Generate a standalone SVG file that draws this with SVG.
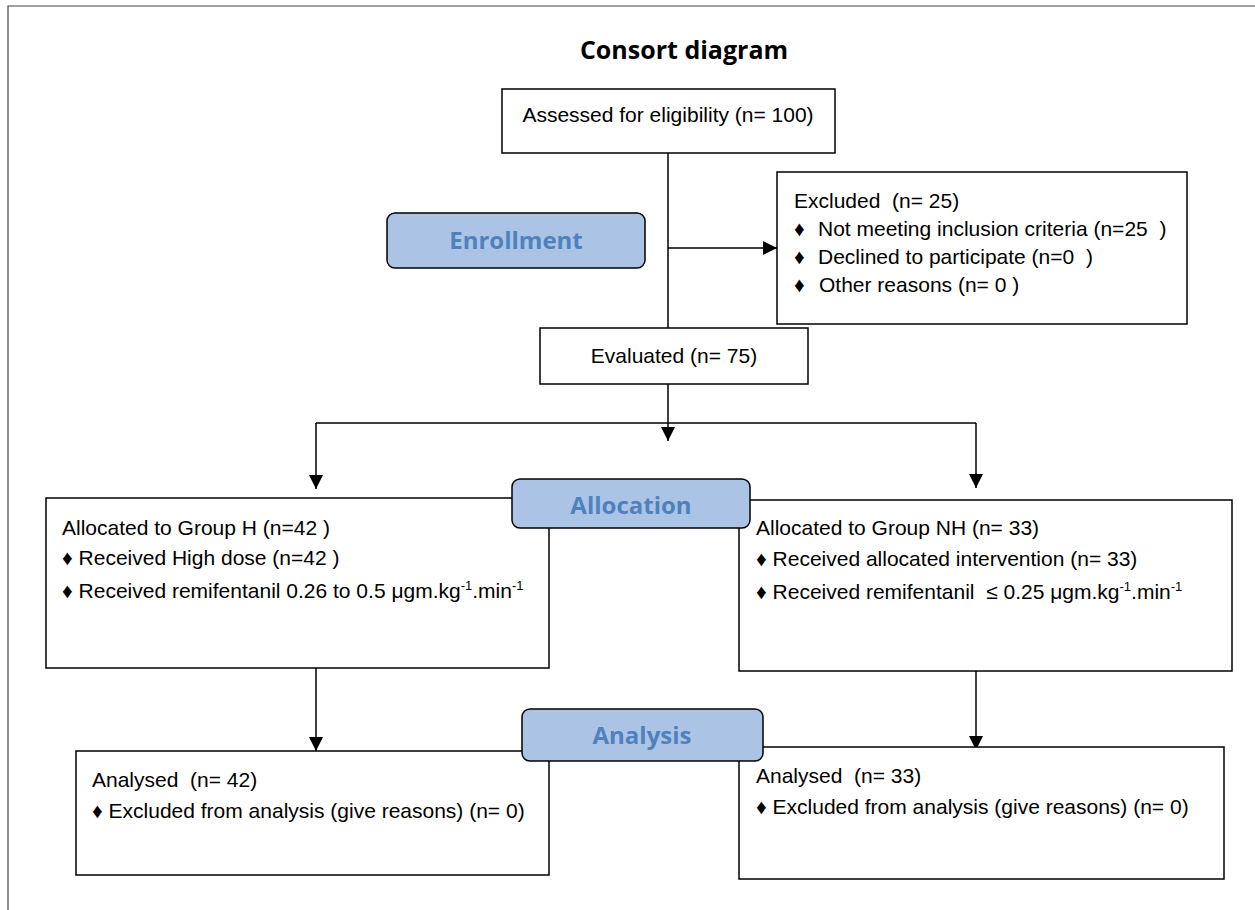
<svg xmlns="http://www.w3.org/2000/svg" width="1255" height="910" viewBox="0 0 1255 910">
<defs>
<marker id="arr" markerWidth="14" markerHeight="14" refX="14" refY="7" orient="auto" markerUnits="userSpaceOnUse" viewBox="0 0 14 14">
<path d="M0,0 L14,7 L0,14 z" fill="#000"/>
</marker>
<style>
.box{fill:#fff;stroke:#000;stroke-width:1.5}
.stage{fill:#abc4e6;stroke:#000;stroke-width:1.5}
.stxt{font-family:"Open Sans","Liberation Sans",sans-serif;font-weight:bold;font-size:24px;fill:#4f81bd;text-anchor:middle}
.t{font-family:"Liberation Sans",Arial,sans-serif;font-size:21px;fill:#000;white-space:pre}
.ln{stroke:#000;stroke-width:1.5;fill:none}
</style>
</defs>
<rect x="0" y="0" width="1255" height="910" fill="#fff"/>
<path d="M8,910 L8,6 L1255,6" fill="none" stroke="#444" stroke-width="1.2"/>
<text x="684" y="59" style="font-family:'Open Sans','Liberation Sans',sans-serif;font-weight:bold;font-size:25px" text-anchor="middle">Consort diagram</text>

<g id="connectors">
<line class="ln" x1="668" y1="153" x2="668" y2="328"/>
<line class="ln" x1="668" y1="248" x2="777" y2="248" marker-end="url(#arr)"/>
<line class="ln" x1="668" y1="384" x2="668" y2="441" marker-end="url(#arr)"/>
<polyline class="ln" points="316,423 976,423"/>
<line class="ln" x1="316" y1="423" x2="316" y2="489" marker-end="url(#arr)"/>
<line class="ln" x1="976" y1="423" x2="976" y2="488" marker-end="url(#arr)"/>
<line class="ln" x1="316" y1="668" x2="316" y2="751" marker-end="url(#arr)"/>
<line class="ln" x1="976" y1="671" x2="976" y2="750" marker-end="url(#arr)"/>
</g>

<g id="assessed">
<rect class="box" x="502" y="89" width="333" height="64"/>
<text class="t" x="668" y="122" text-anchor="middle">Assessed for eligibility (n= 100)</text>
</g>

<g id="enrollment">
<rect class="stage" x="387" y="213" width="258" height="55" rx="8"/>
<text class="stxt" x="516" y="249">Enrollment</text>
</g>

<g id="excluded">
<rect class="box" x="777" y="172" width="410" height="152"/>
<text class="t" x="794" y="208">Excluded  (n= 25)</text>
<text class="t" x="794" y="236">♦  <tspan x="818">Not meeting inclusion criteria (n=25  )</tspan></text>
<text class="t" x="794" y="264">♦  <tspan x="818">Declined to participate (n=0  )</tspan></text>
<text class="t" x="794" y="292">♦  <tspan x="819">Other reasons (n= 0 )</tspan></text>
</g>

<g id="evaluated">
<rect class="box" x="540" y="328" width="268" height="56"/>
<text class="t" x="674" y="363" text-anchor="middle">Evaluated (n= 75)</text>
</g>

<g id="groupH">
<rect class="box" x="46" y="498" width="503" height="170"/>
<text class="t" x="62" y="535">Allocated to Group H (n=42 )</text>
<text class="t" x="62" y="565">♦ Received High dose (n=42 )</text>
<text class="t" x="62" y="598">♦ Received remifentanil 0.26 to 0.5 μgm.kg<tspan dy="-8" font-size="13">-1</tspan><tspan dy="8">.min</tspan><tspan dy="-8" font-size="13">-1</tspan></text>
</g>

<g id="groupNH">
<rect class="box" x="739" y="500" width="493" height="171"/>
<text class="t" x="756" y="535">Allocated to Group NH (n= 33)</text>
<text class="t" x="756" y="566">♦ Received allocated intervention (n= 33)</text>
<text class="t" x="756" y="599">♦ Received remifentanil  ≤ 0.25 μgm.kg<tspan dy="-8" font-size="13">-1</tspan><tspan dy="8">.min</tspan><tspan dy="-8" font-size="13">-1</tspan></text>
</g>

<g id="allocation">
<rect class="stage" x="512" y="479" width="238" height="49" rx="8"/>
<text class="stxt" x="631" y="514">Allocation</text>
</g>

<g id="analysedH">
<rect class="box" x="76" y="751" width="473" height="124"/>
<text class="t" x="92" y="787">Analysed  (n= 42)</text>
<text class="t" x="92" y="818">♦ Excluded from analysis (give reasons) (n= 0)</text>
</g>

<g id="analysedNH">
<rect class="box" x="739" y="747" width="485" height="132"/>
<text class="t" x="756" y="783">Analysed  (n= 33)</text>
<text class="t" x="756" y="814">♦ Excluded from analysis (give reasons) (n= 0)</text>
</g>

<g id="analysis">
<rect class="stage" x="522" y="709" width="241" height="52" rx="8"/>
<text class="stxt" x="642" y="744">Analysis</text>
</g>
</svg>
